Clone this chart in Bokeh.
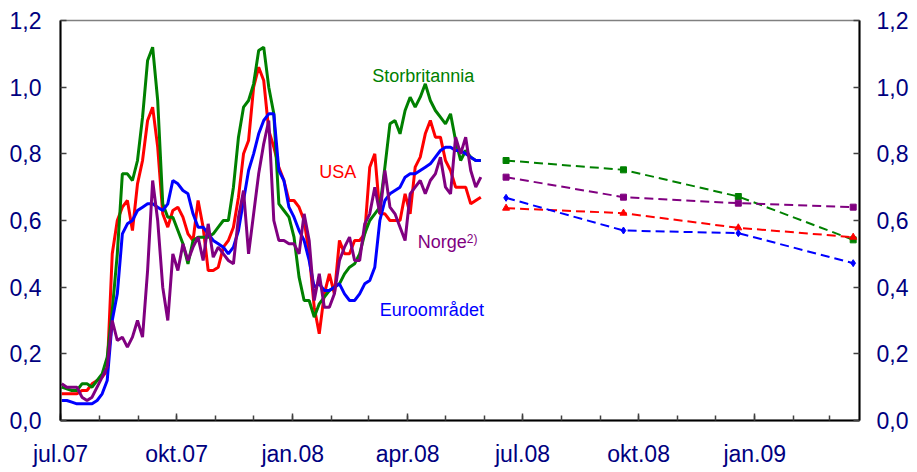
import pandas as pd
from bokeh.plotting import figure
from bokeh.models import Range1d, LinearAxis, FixedTicker, CustomJSTickFormatter, Label
from bokeh.embed import file_html
from bokeh.resources import INLINE

# ---- data ----
dates = pd.date_range("2007-07-02", periods=84, freq="4D")

storbritannia = [0.10, 0.095, 0.09, 0.09, 0.11, 0.11, 0.10, 0.12, 0.14, 0.19,
                 0.33, 0.50, 0.74, 0.74, 0.72, 0.78, 0.91, 1.08, 1.12, 0.96,
                 0.65, 0.61, 0.61, 0.57, 0.53, 0.47, 0.54, 0.55,
                 0.55, 0.55, 0.56, 0.58, 0.60, 0.60, 0.70, 0.85, 0.94, 0.96,
                 1.01, 1.11, 1.12, 1.00, 0.92, 0.65, 0.63, 0.61, 0.55, 0.43,
                 0.36, 0.36, 0.31, 0.35, 0.37, 0.39, 0.40, 0.41,
                 0.44, 0.46, 0.47, 0.50, 0.56, 0.60, 0.62, 0.64, 0.76, 0.89,
                 0.90, 0.86, 0.93, 0.97, 0.94, 0.97, 1.01, 0.96, 0.93, 0.91,
                 0.89, 0.92, 0.84, 0.78, 0.81, 0.79, 0.78, 0.78]

usa = [0.08, 0.08, 0.08, 0.08, 0.09, 0.09, 0.11, 0.12, 0.13, 0.15,
       0.50, 0.60, 0.64, 0.66, 0.57, 0.71, 0.78, 0.90, 0.94, 0.82,
       0.62, 0.58, 0.63, 0.64, 0.61, 0.56, 0.54, 0.66,
       0.58, 0.45, 0.45, 0.46, 0.52, 0.54, 0.58, 0.67, 0.80, 0.84,
       1.00, 1.06, 1.02, 0.87, 0.82, 0.76, 0.72, 0.66, 0.66, 0.64,
       0.60, 0.50, 0.34, 0.26, 0.38, 0.44, 0.38, 0.54,
       0.50, 0.50, 0.54, 0.54, 0.56, 0.76, 0.80, 0.62, 0.62, 0.60,
       0.60, 0.60, 0.68, 0.62, 0.76, 0.79, 0.86, 0.90, 0.85, 0.85,
       0.78, 0.75, 0.70, 0.70, 0.70, 0.65, 0.66, 0.67]

euroomradet = [0.06, 0.06, 0.055, 0.05, 0.05, 0.05, 0.05, 0.06, 0.08, 0.12,
               0.30, 0.38, 0.56, 0.59, 0.60, 0.63, 0.64, 0.65, 0.65, 0.64,
               0.63, 0.65, 0.72, 0.71, 0.69, 0.68, 0.62, 0.58,
               0.58, 0.56, 0.54, 0.53, 0.52, 0.50, 0.52, 0.57, 0.66, 0.75,
               0.80, 0.86, 0.90, 0.92, 0.92, 0.75, 0.72, 0.64, 0.61, 0.57,
               0.54, 0.48, 0.40, 0.41, 0.39, 0.39, 0.40, 0.41,
               0.38, 0.36, 0.36, 0.38, 0.41, 0.42, 0.46, 0.60, 0.66, 0.68,
               0.69, 0.70, 0.73, 0.74, 0.74, 0.75, 0.76, 0.77, 0.79, 0.81,
               0.82, 0.82, 0.81, 0.81, 0.80, 0.79, 0.78, 0.78]

norge = [0.11, 0.10, 0.10, 0.10, 0.07, 0.06, 0.07, 0.10, 0.13, 0.16,
         0.30, 0.24, 0.25, 0.22, 0.25, 0.30, 0.25, 0.45, 0.72, 0.60,
         0.40, 0.30, 0.50, 0.45, 0.53, 0.48, 0.52, 0.55,
         0.48, 0.59, 0.49, 0.52, 0.50, 0.48, 0.47, 0.61, 0.69, 0.50,
         0.62, 0.74, 0.83, 0.90, 0.60, 0.54, 0.54, 0.53, 0.53, 0.50,
         0.62, 0.54, 0.36, 0.44, 0.34, 0.34, 0.38, 0.48,
         0.52, 0.55, 0.48, 0.48, 0.59, 0.62, 0.70, 0.62, 0.75, 0.64,
         0.62, 0.58, 0.54, 0.68, 0.70, 0.72, 0.68, 0.72, 0.74, 0.79,
         0.70, 0.68, 0.85, 0.80, 0.85, 0.75, 0.70, 0.73]

fwd_dates = pd.to_datetime(["2008-06-18", "2008-09-19", "2008-12-19", "2009-03-20"])
fwd_storbritannia = [0.780, 0.752, 0.672, 0.542]
fwd_norge = [0.730, 0.670, 0.652, 0.640]
fwd_usa = [0.637, 0.622, 0.578, 0.550]
fwd_euroomradet = [0.668, 0.570, 0.562, 0.472]

y_ticks = [0.0, 0.2, 0.4, 0.6, 0.8, 1.0, 1.2]
x_major = ["2007-07-01", "2007-10-01", "2008-01-01", "2008-04-01",
           "2008-07-01", "2008-10-01", "2009-01-01"]
x_minor = pd.date_range("2007-07-01", "2009-03-01", freq="MS")


def ms(d):
    return pd.Timestamp(d).value / 1e6


GREEN, RED, BLUE, PURPLE = "#008000", "#FF0000", "#0000FF", "#800080"
FONT = "Liberation Sans"
TICK_COLOR = "#000080"

p = figure(width=917, height=470, x_axis_type="datetime",
           x_range=Range1d(ms("2007-07-01"), ms("2009-03-25")),
           y_range=Range1d(0, 1.2),
           output_backend="svg", toolbar_location=None,
           min_border_left=60, min_border_right=58,
           min_border_top=20, min_border_bottom=50)
p.grid.visible = False
p.outline_line_color = "#808080"
p.outline_line_width = 1.5
p.background_fill_color = "white"
p.border_fill_color = "white"

# x axis
xa = p.xaxis[0]
xa.ticker = FixedTicker(ticks=[ms(d) for d in x_major],
                        minor_ticks=[ms(d) for d in x_minor])
xa.formatter = CustomJSTickFormatter(code="""
const d = new Date(tick);
const m = ["jan","feb","mar","apr","mai","jun","jul","aug","sep","okt","nov","des"][d.getUTCMonth()];
return m + "." + String(d.getUTCFullYear()).slice(2);
""")
xa.major_tick_in = 7
xa.major_tick_out = 0
xa.minor_tick_in = 5
xa.minor_tick_out = 0
xa.major_label_standoff = 20

yfmt = CustomJSTickFormatter(code="return tick.toFixed(1).replace('.', ',');")
ya = p.yaxis[0]
ya.ticker = FixedTicker(ticks=y_ticks)
ya.formatter = yfmt
ya.major_tick_in = 6
ya.major_tick_out = 0
ya.minor_tick_line_color = None
ya.major_label_standoff = 19

ra = LinearAxis(ticker=FixedTicker(ticks=y_ticks), formatter=yfmt)
ra.major_tick_in = 6
ra.major_tick_out = 0
ra.minor_tick_line_color = None
ra.major_label_standoff = 17
p.add_layout(ra, "right")

for ax in [xa, ya, ra]:
    ax.axis_line_color = "black"
    ax.axis_line_width = 2
    ax.major_tick_line_color = "#404040"
    ax.major_tick_line_width = 1.5
    ax.minor_tick_line_width = 1.5
    ax.major_label_text_font = FONT
    ax.major_label_text_font_size = "23px"
    ax.major_label_text_color = TICK_COLOR
xa.minor_tick_line_color = "#404040"

# daily series
p.line(dates, usa, line_color=RED, line_width=3)
p.line(dates, storbritannia, line_color=GREEN, line_width=3)
p.line(dates, euroomradet, line_color=BLUE, line_width=3)
p.line(dates, norge, line_color=PURPLE, line_width=3)

# forward series
for vals, col, mk in [(fwd_storbritannia, GREEN, "square"),
                      (fwd_norge, PURPLE, "square"),
                      (fwd_usa, RED, "triangle"),
                      (fwd_euroomradet, BLUE, "diamond")]:
    p.line(fwd_dates, vals, line_color=col, line_width=2, line_dash="9 5")
    p.scatter(fwd_dates, vals, marker=mk, size=7 if mk != "square" else 6,
              fill_color=col, line_color=col)

# series labels
labels = [("Storbritannia", "2008-03-04", 1.035, GREEN),
          ("USA", "2008-01-22", 0.746, RED),
          ("Norge", "2008-04-09", 0.535, PURPLE),
          ("Euroområdet", "2008-03-10", 0.331, BLUE)]
for txt, d, yv, col in labels:
    p.add_layout(Label(x=ms(d), y=yv, text=txt, text_color=col,
                       text_font=FONT, text_font_size="18px",
                       text_baseline="middle", text_align="left"))
p.add_layout(Label(x=ms("2008-04-09"), y=0.535, x_offset=49, y_offset=3,
                   text="2)", text_color=PURPLE, text_font=FONT,
                   text_font_size="12px", text_baseline="middle",
                   text_align="left"))

open("out.html", "w").write(file_html(p, INLINE))
